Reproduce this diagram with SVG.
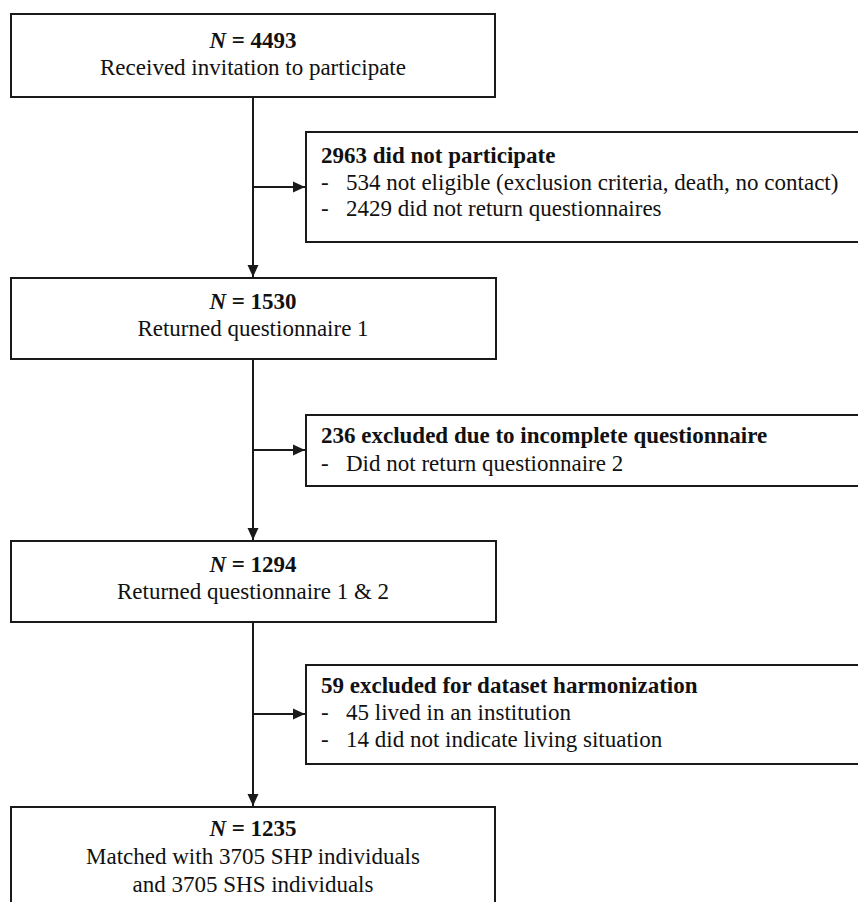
<svg xmlns="http://www.w3.org/2000/svg" width="858" height="902" viewBox="0 0 858 902">
<style>
.box{fill:#fff;stroke:#1a1a1a;stroke-width:2}
.t{font-family:"Liberation Serif","Times New Roman",serif;font-size:23px;fill:#111}
.c{text-anchor:middle}
.b{font-weight:bold}
.i{font-style:italic}
.ln{stroke:#1a1a1a;stroke-width:2;fill:none}
</style>
<defs>
<marker id="ah" viewBox="0 0 12 12" refX="12" refY="6" markerWidth="12" markerHeight="12" markerUnits="userSpaceOnUse" orient="auto">
<path d="M0,0.5 L12,6 L0,11.5 Z" fill="#1a1a1a"/>
</marker>
</defs>
<rect width="858" height="902" fill="#fff"/>
<g id="connectors">
<line class="ln" x1="253" y1="97" x2="253" y2="277" marker-end="url(#ah)"/>
<line class="ln" x1="253" y1="187" x2="305" y2="187" marker-end="url(#ah)"/>
<line class="ln" x1="253" y1="359" x2="253" y2="540" marker-end="url(#ah)"/>
<line class="ln" x1="253" y1="450" x2="305" y2="450" marker-end="url(#ah)"/>
<line class="ln" x1="253" y1="622" x2="253" y2="806" marker-end="url(#ah)"/>
<line class="ln" x1="253" y1="714" x2="305" y2="714" marker-end="url(#ah)"/>
</g>
<g id="n4493">
<rect class="box" x="11" y="14" width="484" height="83"/>
<text class="t c b" x="253" y="48"><tspan class="i">N</tspan> = 4493</text>
<text class="t c" x="253" y="75">Received invitation to participate</text>
</g>
<g id="excl1">
<rect class="box" x="306" y="132" width="560" height="110"/>
<text class="t b" x="321" y="163">2963 did not participate</text>
<text class="t" x="321" y="190">-</text>
<text class="t" x="346" y="190">534 not eligible (exclusion criteria, death, no contact)</text>
<text class="t" x="321" y="216">-</text>
<text class="t" x="346" y="216">2429 did not return questionnaires</text>
</g>
<g id="n1530">
<rect class="box" x="11" y="278" width="485" height="81"/>
<text class="t c b" x="253" y="309"><tspan class="i">N</tspan> = 1530</text>
<text class="t c" x="253" y="336">Returned questionnaire 1</text>
</g>
<g id="excl2">
<rect class="box" x="306" y="415" width="560" height="71"/>
<text class="t b" x="321" y="443">236 excluded due to incomplete questionnaire</text>
<text class="t" x="321" y="471">-</text>
<text class="t" x="346" y="471">Did not return questionnaire 2</text>
</g>
<g id="n1294">
<rect class="box" x="11" y="541" width="485" height="81"/>
<text class="t c b" x="253" y="572"><tspan class="i">N</tspan> = 1294</text>
<text class="t c" x="253" y="599">Returned questionnaire 1 &amp; 2</text>
</g>
<g id="excl3">
<rect class="box" x="306" y="665" width="560" height="99"/>
<text class="t b" x="321" y="693">59 excluded for dataset harmonization</text>
<text class="t" x="321" y="720">-</text>
<text class="t" x="346" y="720">45 lived in an institution</text>
<text class="t" x="321" y="747">-</text>
<text class="t" x="346" y="747">14 did not indicate living situation</text>
</g>
<g id="n1235">
<rect class="box" x="11" y="807" width="484" height="110"/>
<text class="t c b" x="253" y="836"><tspan class="i">N</tspan> = 1235</text>
<text class="t c" x="253" y="864">Matched with 3705 SHP individuals</text>
<text class="t c" x="253" y="892">and 3705 SHS individuals</text>
</g>
</svg>
